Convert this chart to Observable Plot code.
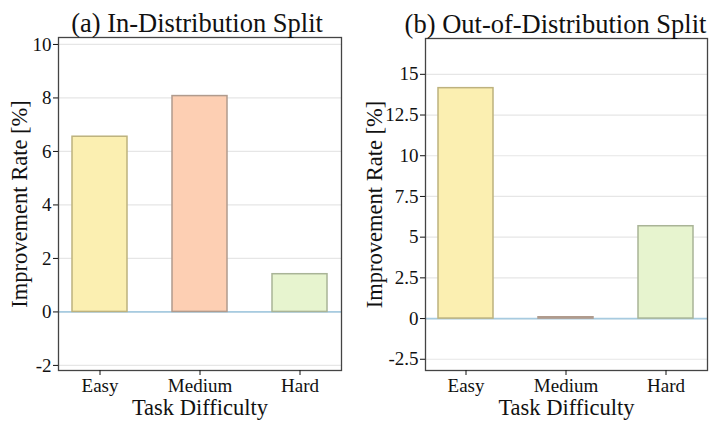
<!DOCTYPE html>
<html>
<head>
<meta charset="utf-8">
<script src="https://cdn.jsdelivr.net/npm/d3@7"></script>
<script src="https://cdn.jsdelivr.net/npm/@observablehq/plot@0.6"></script>
<style>
  body { margin: 0; background: #fff; }
  #wrap { display: flex; width: 716px; height: 422px; }
</style>
</head>
<body>
<div id="wrap"></div>
<script>
const categories = ["Easy", "Medium", "Hard"];
const inDistValues = [6.55, 8.07, 1.41];
const oodValues = [14.15, 0.08, 5.67];
const fills = ["#fbefb1", "#fdcfb3", "#e7f4cf"];
const strokes = ["#bdb27e", "#b09b8d", "#a9b497"];
const ticksA = [-2, 0, 2, 4, 6, 8, 10];
const ticksB = [-2.5, 0, 2.5, 5, 7.5, 10, 12.5, 15];

const SERIF = '"Liberation Serif", "Times New Roman", serif';

function panel({title, values, yDomain, ticks, marginLeft, marginRight, marginTop, labelOffset, titleDx}) {
  const data = categories.map((c, i) => ({cat: c, v: values[i], fill: fills[i], stroke: strokes[i]}));
  const svg = Plot.plot({
    width: 358,
    height: 422,
    marginLeft, marginRight, marginTop,
    marginBottom: 52,
    style: {fontFamily: SERIF, fontSize: "19px", color: "#111", background: "#fff"},
    x: {domain: categories, paddingInner: 0.445, paddingOuter: 0.124},
    y: {domain: yDomain},
    marks: [
      Plot.gridY(ticks, {stroke: "#e6e6e6", strokeOpacity: 1, strokeWidth: 1.2}),
      Plot.ruleY([0], {stroke: "#a7cbe0", strokeWidth: 1.8}),
      Plot.barY(data, {x: "cat", y: "v", fill: "fill", stroke: "stroke", strokeWidth: 1.5}),
      Plot.frame({stroke: "#444", strokeWidth: 1.3}),
      Plot.axisY(ticks, {tickFormat: d => String(d), tickSize: 5, tickPadding: 2, fontSize: 19,
        label: "Improvement Rate [%]", labelAnchor: "center", labelArrow: "none", labelOffset}),
      Plot.axisX({tickSize: 5, tickPadding: 3, fontSize: 19, label: "Task Difficulty",
        labelAnchor: "center", labelArrow: "none", labelOffset: 44}),
      Plot.text([title], {frameAnchor: "top", dy: -24, dx: titleDx, fill: "#111", fontSize: 26.5})
    ]
  });
  svg.setAttribute("font-family", SERIF);
  svg.querySelectorAll("text").forEach(t => {
    t.style.fontFamily = SERIF;
    t.style.fontVariantNumeric = "normal";
  });
  svg.querySelectorAll("g").forEach(g => {
    const lab = g.getAttribute("aria-label") || "";
    if (lab.endsWith("tick label")) g.querySelectorAll("text").forEach(t => { t.style.fontSize = "19px"; t.style.fill = "#111"; });
    if (lab.endsWith("axis label")) g.querySelectorAll("text").forEach(t => { t.style.fontSize = "22.5px"; t.style.fill = "#111"; });
  });
  return svg;
}

const wrap = document.getElementById("wrap");
const a = panel({title: "(a) In-Distribution Split", values: inDistValues, yDomain: [-2.19, 10.26],
  ticks: ticksA, marginLeft: 58, marginRight: 17, marginTop: 37, labelOffset: 47, titleDx: -3});
const b = panel({title: "(b) Out-of-Distribution Split", values: oodValues, yDomain: [-3.19, 17.2],
  ticks: ticksB, marginLeft: 67, marginRight: 9, marginTop: 38, labelOffset: 59, titleDx: -11});
wrap.appendChild(a);
wrap.appendChild(b);
</script>
</body>
</html>
